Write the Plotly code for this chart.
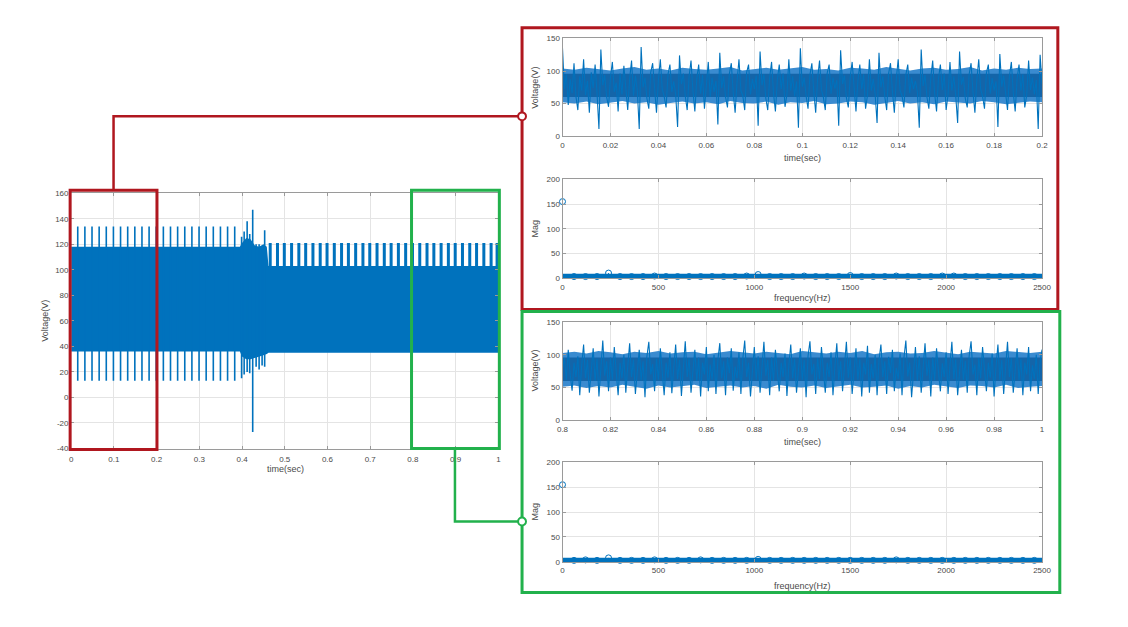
import plotly.graph_objects as go

W, H = 1128, 627
BLUE = "#0072BD"
CORE = "#1465a9"
HALO = "#3a8bd0"
RED = "#B0171F"
GREEN = "#22B14C"
AX = "#9a9a9a"
GRID = "#e4e4e4"
TXT = "#4a4a4a"
FONT = "Liberation Sans, Arial, sans-serif"

# ---------------- main record, 0 - 1 s ----------------
main_env_t = [0.0, 0.395, 0.400, 0.410, 0.420, 0.430, 0.440, 0.450, 0.458, 0.462, 1.0]
main_env_hi = [118, 118, 121, 125, 124, 119, 118, 120, 118, 103, 103]
main_env_lo = [36, 36, 32, 30, 30, 31, 32, 33, 34, 35, 35]

main_spike_t = [0.0155, 0.0322, 0.0489, 0.0656, 0.0823, 0.0990, 0.1157, 0.1324,
                0.1491, 0.1658, 0.1825, 0.1992, 0.2159, 0.2326, 0.2493, 0.2660,
                0.2827, 0.2994, 0.3161, 0.3328, 0.3495, 0.3662, 0.3829,
                0.399, 0.405, 0.412, 0.418, 0.425, 0.433, 0.440, 0.447, 0.453]
main_spike_hi = [134, 134, 134, 134, 134, 134, 134, 134, 134, 134, 134, 134,
                 134, 134, 134, 134, 134, 134, 134, 134, 134, 134, 134,
                 126, 130, 138, 128, 147, 120, 120, 118, 131]
main_spike_lo = [13, 13, 13, 13, 13, 13, 13, 13, 13, 13, 13, 13,
                 13, 13, 13, 13, 13, 13, 13, 13, 13, 13, 13,
                 15, 18, 20, 19, -27, 24, 22, 25, 24]

main_tooth_t = [0.466, 0.483, 0.499, 0.516, 0.533, 0.549, 0.566, 0.583, 0.599,
                0.616, 0.633, 0.649, 0.666, 0.683, 0.699, 0.716, 0.733, 0.749,
                0.766, 0.783, 0.799, 0.816, 0.833, 0.849, 0.866, 0.883, 0.899,
                0.916, 0.933, 0.949, 0.966, 0.983, 0.997]
main_tooth_hi = [121] * len(main_tooth_t)
main_tooth_lo = [103] * len(main_tooth_t)

# ---------------- window 0 - 0.2 s (samples every 0.8 ms) ----------------
p1_dt = 0.0008
p1_v = [
    135, 72, 95, 48, 88, 66, 112, 61, 40, 92, 70, 118, 63, 85, 36, 98, 74, 110, 66, 11,
    133, 78, 94, 60, 45, 90, 114, 68, 82, 38, 96, 64, 108, 71, 40, 88, 116, 62, 93, 70, 11,
    137, 75, 90, 58, 42, 98, 112, 66, 36, 86, 118, 72, 61, 44, 95, 110, 68, 84, 64, 14,
    124, 80, 96, 62, 40, 92, 116, 70, 38, 88, 110, 65, 94, 42, 73, 114, 60, 90, 68, 85, 18,
    128, 74, 92, 60, 44, 96, 112, 67, 36, 84, 118, 70, 62, 40, 98, 110, 64, 88, 72, 93, 16,
    130, 78, 95, 58, 40, 90, 114, 66, 38, 86, 110, 72, 96, 45, 64, 118, 70, 92, 61, 84, 13,
    135, 76, 90, 62, 42, 94, 112, 68, 36, 88, 116, 71, 60, 40, 97, 110, 65, 90, 73, 86, 16,
    132, 80, 93, 59, 44, 91, 114, 67, 38, 85, 110, 72, 95, 42, 63, 118, 70, 88, 64, 20,
    128, 75, 92, 61, 40, 96, 112, 69, 36, 87, 118, 70, 62, 44, 94, 110, 66, 90, 72, 85, 68, 13,
    133, 77, 94, 60, 42, 90, 116, 66, 38, 88, 110, 71, 96, 40, 64, 114, 70, 92, 62, 20,
    130, 79, 91, 58, 44, 95, 112, 68, 36, 86, 118, 72, 61, 42, 97, 110, 65, 89, 70, 84, 14,
    126, 76, 93, 62, 40, 92, 114, 67, 38, 88, 110, 70, 95, 44, 63, 116, 71, 90, 64, 86, 11,
    125, 80,
]
# dense part of the trace: ragged outer edge and darker core, read every 5 ms
p1_env_t = [0.000, 0.005, 0.010, 0.015, 0.020, 0.025, 0.030, 0.035, 0.040, 0.045,
            0.050, 0.055, 0.060, 0.065, 0.070, 0.075, 0.080, 0.085, 0.090, 0.095,
            0.100, 0.105, 0.110, 0.115, 0.120, 0.125, 0.130, 0.135, 0.140, 0.145,
            0.150, 0.155, 0.160, 0.165, 0.170, 0.175, 0.180, 0.185, 0.190, 0.195, 0.200]
p1_env_hi = [104, 102, 105, 103, 101, 104, 106, 102, 104, 101, 105, 103, 102, 104,
             106, 101, 103, 105, 102, 104, 106, 102, 103, 101, 105, 104, 102, 106,
             103, 101, 104, 105, 102, 103, 106, 101, 104, 102, 105, 103, 104]
p1_env_lo = [52, 50, 53, 49, 51, 54, 50, 52, 48, 51, 53, 50, 52, 49, 54, 51, 50,
             53, 48, 52, 51, 54, 49, 50, 53, 52, 48, 51, 54, 50, 52, 49, 53, 51,
             50, 54, 52, 49, 51, 53, 52]
p1_core_lo = 60
p1_core_hi = 96

# ---------------- spectrum of window 0 - 0.2 s ----------------
p2_floor_f = [0, 2500]
p2_floor_m = [2, 2]
p2_peak_f = [0, 240, 480, 1020, 1500, 1740, 2040]
p2_peak_m = [155, 10, 4, 7, 5, 4, 4]
p2_bump_f = [60, 120, 180, 300, 360, 420, 540, 600, 660, 720, 780, 840, 900, 960,
             1080, 1140, 1200, 1260, 1320, 1380, 1440, 1560, 1620, 1680, 1800,
             1860, 1920, 1980, 2100, 2160, 2220, 2280, 2340, 2400, 2460]
p2_bump_m = [3, 3, 3, 3, 3, 3, 3, 3, 3, 3, 3, 3, 3, 4, 3, 3, 3, 4, 3, 3, 3,
             3, 3, 3, 3, 3, 3, 4, 3, 3, 3, 3, 3, 3, 3]

# ---------------- window 0.8 - 1 s (samples every 0.8 ms) ----------------
p3_t0 = 0.8
p3_dt = 0.0008
p3_v = [
    78, 95, 62, 108, 70, 45, 88, 66, 98, 38, 84, 116, 64, 92, 42, 80, 110, 60, 94, 36, 86,
    122, 68, 90, 44, 96, 62, 112, 74, 38, 88, 64, 100, 42, 82, 118, 66, 93, 40, 76, 108, 61,
    90, 35, 98, 120, 70, 86, 44, 94, 62, 110, 72, 38, 88, 65, 104, 41, 80, 116, 63, 92, 37,
    84, 121, 66, 95, 42, 78, 108, 60, 96, 36, 88, 70, 112, 44, 85, 62, 100, 40, 92, 118, 64,
    90, 38, 96, 72, 110, 45, 82, 64, 104, 40, 94, 122, 66, 88, 36, 76, 112, 62, 98, 42, 86,
    120, 68, 92, 38, 96, 60, 108, 74, 44, 88, 66, 102, 37, 84, 116, 64, 94, 42, 78, 110, 62,
    92, 35, 98, 121, 70, 86, 40, 95, 63, 112, 72, 42, 88, 66, 104, 38, 82, 118, 61, 90, 44,
    84, 120, 65, 96, 40, 78, 110, 62, 94, 36, 88, 70, 114, 42, 86, 64, 100, 38, 92, 116, 66,
    90, 40, 97, 72, 108, 44, 80, 63, 102, 38, 95, 122, 67, 88, 35, 76, 112, 60, 98, 42, 85,
    118, 68, 93, 36, 96, 61, 110, 74, 44, 87, 66, 104, 40, 84, 120, 63, 94, 38, 80, 108, 62,
    91, 42, 98, 121, 70, 85, 38, 95, 64, 112, 72, 44, 88, 65, 102, 36, 82, 116, 62, 92, 40,
    86, 120, 66, 95, 42, 78, 110, 61, 94, 38, 88, 70, 112, 44, 84, 63, 100, 40, 90, 108,
]
p3_env_t = [0.800, 0.805, 0.810, 0.815, 0.820, 0.825, 0.830, 0.835, 0.840, 0.845,
            0.850, 0.855, 0.860, 0.865, 0.870, 0.875, 0.880, 0.885, 0.890, 0.895,
            0.900, 0.905, 0.910, 0.915, 0.920, 0.925, 0.930, 0.935, 0.940, 0.945,
            0.950, 0.955, 0.960, 0.965, 0.970, 0.975, 0.980, 0.985, 0.990, 0.995, 1.000]
p3_env_hi = [103, 105, 102, 106, 104, 101, 105, 103, 106, 102, 104, 105, 101, 103,
             106, 104, 102, 105, 103, 101, 106, 104, 102, 105, 103, 106, 101, 104,
             105, 102, 103, 106, 104, 101, 105, 103, 102, 106, 104, 103, 105]
p3_env_lo = [51, 53, 49, 52, 50, 54, 51, 48, 53, 50, 52, 54, 49, 51, 53, 50, 52,
             48, 54, 51, 50, 53, 49, 52, 54, 50, 51, 53, 48, 52, 50, 54, 51, 49,
             53, 52, 50, 54, 49, 51, 52]
p3_core_lo = 60
p3_core_hi = 96

# ---------------- spectrum of window 0.8 - 1 s ----------------
p4_floor_f = [0, 2500]
p4_floor_m = [2, 2]
p4_peak_f = [0, 120, 240, 480, 1020, 1740]
p4_peak_m = [155, 4, 8, 4, 5, 4]
p4_bump_f = [60, 180, 300, 360, 420, 540, 600, 660, 720, 780, 840, 900, 960,
             1080, 1140, 1200, 1260, 1320, 1380, 1440, 1500, 1560, 1620, 1680,
             1800, 1860, 1920, 1980, 2040, 2100, 2160, 2220, 2280, 2340, 2400, 2460]
p4_bump_m = [3, 3, 3, 3, 3, 3, 3, 3, 4, 3, 3, 3, 3, 3, 3, 3, 3, 3, 3, 3, 3,
             3, 3, 3, 3, 3, 3, 3, 3, 3, 3, 3, 3, 3, 3, 3]


# ---------------- helpers ----------------
def px(x):
    return x / W


def py(y):
    return 1 - y / H


def segs(ts, lo, hi):
    xs, ys = [], []
    for t, a, b in zip(ts, lo, hi):
        xs += [t, t, None]
        ys += [a, b, None]
    return xs, ys


def band(ts, hi, lo):
    return list(ts) + list(ts[::-1]), list(hi) + list(lo[::-1])


fig = go.Figure()

# main panel
bx, by = band(main_env_t, main_env_hi, main_env_lo)
fig.add_trace(go.Scatter(x=bx, y=by, fill="toself", fillcolor=BLUE,
                         line=dict(width=0), mode="lines", xaxis="x", yaxis="y"))
sx, sy = segs(main_spike_t, main_spike_lo, main_spike_hi)
fig.add_trace(go.Scatter(x=sx, y=sy, mode="lines", line=dict(color=BLUE, width=1.6),
                         xaxis="x", yaxis="y"))
tx, ty = segs(main_tooth_t, main_tooth_lo, main_tooth_hi)
fig.add_trace(go.Scatter(x=tx, y=ty, mode="lines", line=dict(color=BLUE, width=3),
                         xaxis="x", yaxis="y"))


def time_window(t0, dt, vals, env_t, env_hi, env_lo, c_lo, c_hi, xa, ya):
    ts = [t0 + i * dt for i in range(len(vals))]
    bx, by = band(env_t, env_hi, env_lo)
    fig.add_trace(go.Scatter(x=bx, y=by, fill="toself", fillcolor=HALO,
                             line=dict(width=0), mode="lines", xaxis=xa, yaxis=ya))
    fig.add_trace(go.Scatter(x=[ts[0], ts[-1], ts[-1], ts[0]],
                             y=[c_lo, c_lo, c_hi, c_hi], fill="toself",
                             fillcolor=CORE, line=dict(width=0), mode="lines",
                             xaxis=xa, yaxis=ya))
    fig.add_trace(go.Scatter(x=ts, y=vals, mode="lines",
                             line=dict(color=BLUE, width=1.1), xaxis=xa, yaxis=ya))


def spectrum(fl_f, fl_m, pk_f, pk_m, bp_f, bp_m, xa, ya):
    fig.add_trace(go.Scatter(x=fl_f, y=fl_m, mode="lines",
                             line=dict(color=BLUE, width=6.5), xaxis=xa, yaxis=ya))
    sx, sy = segs(pk_f, [0] * len(pk_f), pk_m)
    fig.add_trace(go.Scatter(x=sx, y=sy, mode="lines",
                             line=dict(color=BLUE, width=1), xaxis=xa, yaxis=ya))
    fig.add_trace(go.Scatter(x=pk_f + bp_f, y=pk_m + bp_m, mode="markers",
                             marker=dict(symbol="circle-open", size=6, color=BLUE,
                                         line=dict(width=1)),
                             cliponaxis=False, xaxis=xa, yaxis=ya))


time_window(0.0, p1_dt, p1_v, p1_env_t, p1_env_hi, p1_env_lo,
            p1_core_lo, p1_core_hi, "x2", "y2")
spectrum(p2_floor_f, p2_floor_m, p2_peak_f, p2_peak_m, p2_bump_f, p2_bump_m, "x3", "y3")
time_window(p3_t0, p3_dt, p3_v, p3_env_t, p3_env_hi, p3_env_lo,
            p3_core_lo, p3_core_hi, "x4", "y4")
spectrum(p4_floor_f, p4_floor_m, p4_peak_f, p4_peak_m, p4_bump_f, p4_bump_m, "x5", "y5")


def axis(dom, rng, anchor, dtick=None, tickvals=None, ticktext=None, standoff=0):
    d = dict(domain=dom, range=rng, anchor=anchor, showgrid=True, gridcolor=GRID,
             gridwidth=1, showline=True, linecolor=AX, linewidth=1, mirror="ticks",
             ticks="inside", ticklen=3, tickcolor=AX, zeroline=False,
             tickfont=dict(size=8, color=TXT, family=FONT), fixedrange=True,
             ticklabelstandoff=standoff)
    if dtick is not None:
        d["dtick"] = dtick
        d["tick0"] = rng[0]
    if tickvals is not None:
        d["tickvals"] = tickvals
        d["ticktext"] = ticktext
    return d


main_y_vals = [-40, -20, 0, 20, 40, 60, 80, 100, 120, 140, 160]
main_y_text = ["-40", "-20", "0", "20", "40", "60", "80", "100", "120", "140", "160"]

XD_MAIN = [px(66), px(499)]
XD_R = [px(564), px(1050)]

layout = dict(
    width=W, height=H, margin=dict(l=0, r=0, t=0, b=0),
    paper_bgcolor="white", plot_bgcolor="white", showlegend=False,
    font=dict(family=FONT, color=TXT),
    xaxis=axis(XD_MAIN, [0, 1], "y", dtick=0.1, standoff=3),
    yaxis=axis([py(451), py(192)], [-40, 160], "x", tickvals=main_y_vals,
               ticktext=main_y_text),
    xaxis2=axis(XD_R, [0, 0.2], "y2", dtick=0.02, standoff=1),
    yaxis2=axis([py(134), py(35)], [0, 150], "x2", dtick=50),
    xaxis3=axis(XD_R, [0, 2500], "y3", dtick=500, standoff=1),
    yaxis3=axis([py(278), py(178)], [0, 200], "x3", dtick=50),
    xaxis4=axis(XD_R, [0.8, 1.0], "y4", dtick=0.02, standoff=1),
    yaxis4=axis([py(422), py(323)], [0, 150], "x4", dtick=50),
    xaxis5=axis(XD_R, [0, 2500], "y5", dtick=500, standoff=1),
    yaxis5=axis([py(566), py(465)], [0, 200], "x5", dtick=50),
)
fig.update_layout(**layout)


def label(text, x, y, rot=0):
    fig.add_annotation(text=text, x=px(x), y=py(y), xref="paper", yref="paper",
                       showarrow=False, textangle=rot, xanchor="center",
                       yanchor="middle", font=dict(size=9, color=TXT, family=FONT))


label("time(sec)", 283, 472)
label("Voltage(V)", 40, 321, -90)
label("time(sec)", 807, 156)
label("Voltage(V)", 536, 85, -90)
label("frequency(Hz)", 807, 298)
label("Mag", 536, 228, -90)
label("time(sec)", 807, 444)
label("Voltage(V)", 536, 372, -90)
label("frequency(Hz)", 807, 590)
label("Mag", 536, 515, -90)


def rect(x0, y0, x1, y1, color, w=3):
    fig.add_shape(type="rect", xref="paper", yref="paper", x0=px(x0), x1=px(x1),
                  y0=py(y1), y1=py(y0), line=dict(color=color, width=w),
                  fillcolor="rgba(0,0,0,0)", layer="above")


def path(points, color, w=2.5):
    d = "M " + " L ".join(f"{px(a)},{py(b)}" for a, b in points)
    fig.add_shape(type="path", xref="paper", yref="paper", path=d,
                  line=dict(color=color, width=w), layer="above")


def ring(x, y, color, r=4):
    fig.add_shape(type="circle", xref="paper", yref="paper",
                  x0=px(x - r), x1=px(x + r), y0=py(y + r), y1=py(y - r),
                  line=dict(color=color, width=2), fillcolor="white", layer="above")


# highlight boxes on the main record
rect(65, 189, 153, 452, RED)
rect(411, 189, 500, 451, GREEN)
# connectors
path([(109, 189), (109, 114), (523, 114)], RED)
path([(455, 451), (455, 525), (523, 525)], GREEN)
# big frames
rect(523, 24, 1066, 310, RED)
rect(523, 312, 1068, 597, GREEN)
ring(523, 114, RED)
ring(523, 525, GREEN)

fig.write_html("out.html")
